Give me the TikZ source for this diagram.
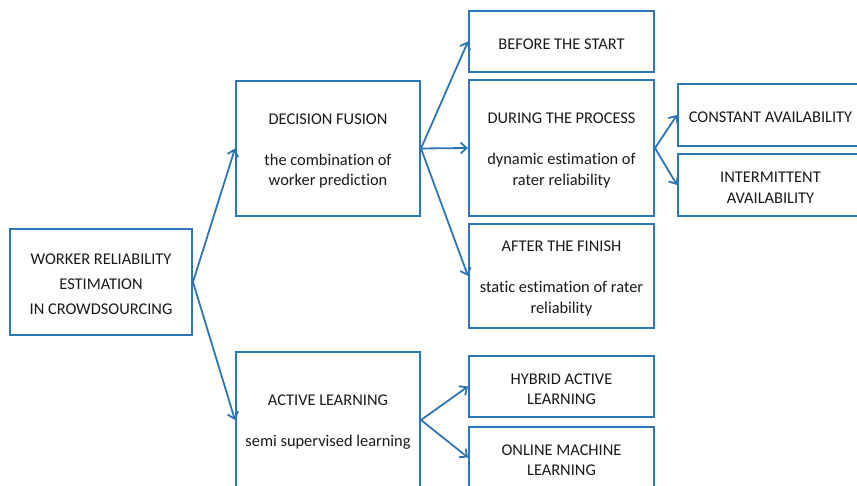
\documentclass[tikz,border=0pt]{standalone}
\usepackage{fontspec}
\setmainfont{Carlito}[Ligatures=NoCommon]
\usetikzlibrary{arrows.meta}
\definecolor{boxblue}{HTML}{2E75B6}
\definecolor{txt}{HTML}{1A1A1A}
\tikzset{
  box/.style={draw=boxblue, line width=2pt, fill=white, inner sep=0pt},
  boxtext/.style={align=center, inner sep=0pt, text=txt, yshift=-2.5pt,
    font=\fontsize{16.4}{20.5}\selectfont},
  link/.style={draw=boxblue, line width=1.8pt, -{Straight Barb[length=6pt,width=11pt,line width=1.8pt]}}
}
\begin{document}
\begin{tikzpicture}[x=1pt,y=-1pt]
\useasboundingbox (0,0) rectangle (857,486);
\clip (0,0) rectangle (857,486);
\node[box, minimum width=182pt, minimum height=106pt,
  label={[boxtext, font=\fontsize{16.4}{25}\selectfont]center:{WORKER RELIABILITY\\ESTIMATION\\IN CROWDSOURCING}}] (root) at (101,282) {};
\node[box, minimum width=184pt, minimum height=135pt,
  label={[boxtext]center:{DECISION FUSION\\[20.5pt]the combination of\\worker prediction}}] (df) at (328,148.5) {};
\node[box, minimum width=184pt, minimum height=136pt,
  label={[boxtext]center:{ACTIVE LEARNING\\[20.5pt]semi supervised learning}}] (al) at (328,420) {};
\node[box, minimum width=185pt, minimum height=61pt,
  label={[boxtext]center:{BEFORE THE START}}] (before) at (561.5,41.5) {};
\node[box, minimum width=185pt, minimum height=136pt,
  label={[boxtext]center:{DURING THE PROCESS\\[20.5pt]dynamic estimation of\\rater reliability}}] (during) at (561.5,148) {};
\node[box, minimum width=185pt, minimum height=104pt,
  label={[boxtext]center:{AFTER THE FINISH\\[20.5pt]static estimation of rater\\reliability}}] (after) at (561.5,276) {};
\node[box, minimum width=185pt, minimum height=62pt,
  label={[boxtext]center:{CONSTANT AVAILABILITY}}] (const) at (770.5,115) {};
\node[box, minimum width=185pt, minimum height=62pt,
  label={[boxtext]center:{INTERMITTENT\\AVAILABILITY}}] (inter) at (770.5,185) {};
\node[box, minimum width=185pt, minimum height=61pt,
  label={[boxtext]center:{HYBRID ACTIVE\\LEARNING}}] (hybrid) at (561.5,386.5) {};
\node[box, minimum width=185pt, minimum height=61pt,
  label={[boxtext]center:{ONLINE MACHINE\\LEARNING}}] (online) at (561.5,457.5) {};
\draw[link] (root.east) -- (df.west);
\draw[link] (root.east) -- (al.west);
\draw[link] (df.east) -- (before.west);
\draw[link] (df.east) -- (during.west);
\draw[link] (df.east) -- (after.west);
\draw[link] (during.east) -- (const.west);
\draw[link] (during.east) -- (inter.west);
\draw[link] (al.east) -- (hybrid.west);
\draw[link] (al.east) -- (online.west);
\end{tikzpicture}
\end{document}
